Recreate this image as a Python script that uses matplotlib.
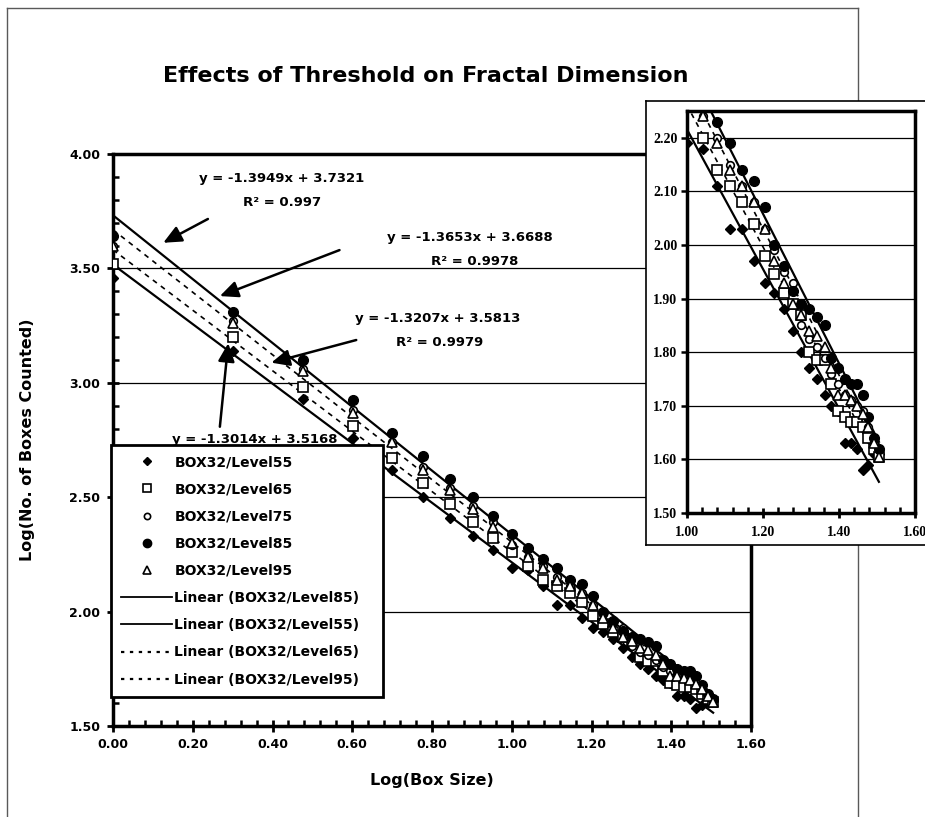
import matplotlib
matplotlib.use("Agg")
import numpy as np
import matplotlib.pyplot as plt
from matplotlib.ticker import MultipleLocator, FormatStrFormatter
from matplotlib.lines import Line2D

# log(box size) for box sizes 1..32
log_box = [0.000, 0.301, 0.477, 0.602, 0.699, 0.778, 0.845, 0.903, 0.954, 1.000,
           1.041, 1.079, 1.114, 1.146, 1.176, 1.204, 1.230, 1.255, 1.279, 1.301,
           1.322, 1.342, 1.362, 1.380, 1.398, 1.415, 1.431, 1.447, 1.462, 1.477,
           1.491, 1.505]

level55 = [3.46, 3.14, 2.93, 2.76, 2.62, 2.50, 2.41, 2.33, 2.27, 2.19,
           2.18, 2.11, 2.03, 2.03, 1.97, 1.93, 1.91, 1.88, 1.84, 1.80,
           1.77, 1.75, 1.72, 1.70, 1.69, 1.63, 1.63, 1.62, 1.58, 1.59,
           1.61, 1.61]
level65 = [3.52, 3.20, 2.98, 2.81, 2.67, 2.56, 2.47, 2.39, 2.32, 2.26,
           2.20, 2.14, 2.11, 2.08, 2.04, 1.98, 1.945, 1.91, 1.89, 1.87,
           1.80, 1.785, 1.785, 1.74, 1.69, 1.68, 1.67, 1.67, 1.66, 1.64,
           1.62, 1.605]
level75 = [3.60, 3.27, 3.06, 2.88, 2.74, 2.63, 2.54, 2.46, 2.39, 2.29,
           2.24, 2.20, 2.15, 2.11, 2.08, 2.03, 1.99, 1.95, 1.93, 1.85,
           1.825, 1.81, 1.79, 1.76, 1.74, 1.72, 1.71, 1.70, 1.69, 1.66,
           1.63, 1.62]
level85 = [3.64, 3.31, 3.10, 2.925, 2.78, 2.68, 2.58, 2.50, 2.42, 2.34,
           2.28, 2.23, 2.19, 2.14, 2.12, 2.07, 2.00, 1.96, 1.915, 1.89,
           1.88, 1.865, 1.85, 1.79, 1.77, 1.75, 1.74, 1.74, 1.72, 1.68,
           1.64, 1.62]
level95 = [3.60, 3.26, 3.05, 2.87, 2.74, 2.62, 2.53, 2.45, 2.37, 2.30,
           2.24, 2.19, 2.14, 2.11, 2.08, 2.03, 1.97, 1.93, 1.89, 1.87,
           1.84, 1.83, 1.81, 1.77, 1.72, 1.72, 1.71, 1.70, 1.685, 1.66,
           1.63, 1.605]

series_names = ["BOX32/Level55", "BOX32/Level65", "BOX32/Level75",
                "BOX32/Level85", "BOX32/Level95"]

# trendlines (order as in legend)
fit_names = ["Level85", "Level55", "Level65", "Level95"]
fit_slope = [-1.3949, -1.3014, -1.3207, -1.3653]
fit_icpt = [3.7321, 3.5168, 3.5813, 3.6688]
fit_r2 = ["0.997", "", "0.9979", "0.9978"]

W, H = 925, 817
fig = plt.figure(figsize=(W / 100, H / 100), dpi=100)
plt.rcParams["font.weight"] = "bold"


def fx(px):
    return px / W


def fy(py):
    return 1 - py / H


def draw_data(ax):
    xs = np.array([log_box[0], log_box[-1]])
    for s, b, name in zip(fit_slope, fit_icpt, fit_names):
        ls = "-" if name in ("Level85", "Level55") else (0, (3, 3))
        lw = 1.6 if ls == "-" else 1.2
        ax.plot(xs, s * xs + b, color="k", lw=lw, linestyle=ls, zorder=3)
    ax.plot(log_box, level55, ls="none", marker="D", ms=5, mfc="k", mec="k", zorder=4)
    ax.plot(log_box, level65, ls="none", marker="s", ms=6.5, mfc="white", mec="k", mew=1.2, zorder=4)
    ax.plot(log_box, level75, ls="none", marker="o", ms=5.5, mfc="white", mec="k", mew=1.2, zorder=4)
    ax.plot(log_box, level85, ls="none", marker="o", ms=7, mfc="k", mec="k", zorder=4)
    ax.plot(log_box, level95, ls="none", marker="^", ms=6.5, mfc="white", mec="k", mew=1.2, zorder=4)


# outer frame of the chart area
frame_kw = dict(transform=fig.transFigure, color="0.35", lw=1, zorder=-1)
fig.add_artist(Line2D([fx(7), fx(7)], [0, fy(8)], **frame_kw))
fig.add_artist(Line2D([fx(7), fx(858)], [fy(8), fy(8)], **frame_kw))
fig.add_artist(Line2D([fx(858), fx(858)], [fy(8), 0], **frame_kw))

# main axes
ax = fig.add_axes([fx(113), fy(726), (751 - 113) / W, (726 - 154) / H])
draw_data(ax)
ax.set_xlim(0, 1.6)
ax.set_ylim(1.5, 4.0)
ax.xaxis.set_major_locator(MultipleLocator(0.2))
ax.xaxis.set_minor_locator(MultipleLocator(0.04))
ax.yaxis.set_major_locator(MultipleLocator(0.5))
ax.yaxis.set_minor_locator(MultipleLocator(0.1))
ax.xaxis.set_major_formatter(FormatStrFormatter("%.2f"))
ax.yaxis.set_major_formatter(FormatStrFormatter("%.2f"))
ax.tick_params(which="major", direction="inout", length=8, width=2, labelsize=9, pad=5)
ax.tick_params(which="minor", direction="in", length=4, width=1.8)
ax.yaxis.grid(True, which="major", color="k", lw=0.9)
ax.set_axisbelow(True)
for sp in ax.spines.values():
    sp.set_linewidth(2.5)

# equations with arrows
eq_text = [(0.423, 3.895, 0.423, 3.786, 0.238, 3.716, 0.126, 3.612),
           (0.894, 3.637, 0.906, 3.528, 0.568, 3.580, 0.268, 3.379),
           (0.814, 3.283, 0.819, 3.174, 0.610, 3.187, 0.397, 3.088),
           (0.356, 2.750, None, None, 0.268, 2.808, 0.289, 3.173)]
eq_order = [0, 3, 2, 1]  # Level85, Level95, Level65, Level55
for k, (tx, ty, rx, ry, ax0, ay0, ax1, ay1) in zip(eq_order, eq_text):
    s, b = fit_slope[k], fit_icpt[k]
    ax.text(tx, ty, "y = %.4fx + %.4f" % (s, b), ha="center", va="center",
            fontsize=9.5, zorder=3)
    if rx is not None:
        ax.text(rx, ry, "R\u00b2 = " + fit_r2[k], ha="center", va="center",
                fontsize=9.5, zorder=3)
    ax.annotate("", xy=(ax1, ay1), xytext=(ax0, ay0),
                arrowprops=dict(arrowstyle="-|>,head_length=0.55,head_width=0.25",
                                lw=1.8, color="k", mutation_scale=20,
                                shrinkA=0, shrinkB=0), zorder=3)

# legend
handles = [
    Line2D([], [], ls="none", marker="D", ms=4.5, mfc="k", mec="k"),
    Line2D([], [], ls="none", marker="s", ms=5.5, mfc="white", mec="k", mew=1.2),
    Line2D([], [], ls="none", marker="o", ms=4.5, mfc="white", mec="k", mew=1.2),
    Line2D([], [], ls="none", marker="o", ms=6, mfc="k", mec="k"),
    Line2D([], [], ls="none", marker="^", ms=5.5, mfc="white", mec="k", mew=1.2),
    Line2D([], [], color="k", lw=1.3),
    Line2D([], [], color="k", lw=1.3),
    Line2D([], [], color="k", lw=1.6, ls=(0, (1.5, 2.5))),
    Line2D([], [], color="k", lw=1.6, ls=(0, (1.5, 2.5))),
]
labels = series_names + ["Linear (BOX32/%s)" % n for n in fit_names]
leg = ax.legend(handles, labels, loc="upper left",
                bbox_to_anchor=(fx(111), fy(445), (383 - 111) / W, 0),
                bbox_transform=fig.transFigure, mode="expand",
                prop=dict(weight="bold", size=10), frameon=True, fancybox=False,
                edgecolor="k", framealpha=1, borderpad=0.72, labelspacing=0.95,
                handlelength=3.7, handletextpad=0.15, borderaxespad=0)
leg.get_frame().set_linewidth(2)
leg.set_zorder(10)

fig.text(fx(426), fy(76), "Effects of Threshold on Fractal Dimension",
         ha="center", va="center", fontsize=16, fontweight="bold")
fig.text(fx(28), fy(440), "Log(No. of Boxes Counted)", rotation=90,
         ha="center", va="center", fontsize=11.5, fontweight="bold")
fig.text(fx(432), fy(781), "Log(Box Size)", ha="center", va="center",
         fontsize=11.5, fontweight="bold")

# inset: white panel with frame, then zoomed axes
fax = fig.add_axes([fx(646), fy(545), 0.35, (545 - 101) / H])
fax.set_xticks([])
fax.set_yticks([])
for sp in fax.spines.values():
    sp.set_linewidth(1.2)

iax = fig.add_axes([fx(687), fy(513), (915 - 687) / W, (513 - 111) / H])
draw_data(iax)
iax.set_xlim(1.0, 1.6)
iax.set_ylim(1.5, 2.25)
iax.xaxis.set_major_locator(MultipleLocator(0.2))
iax.xaxis.set_minor_locator(MultipleLocator(0.04))
iax.yaxis.set_major_locator(MultipleLocator(0.1))
iax.xaxis.set_major_formatter(FormatStrFormatter("%.2f"))
iax.yaxis.set_major_formatter(FormatStrFormatter("%.2f"))
iax.tick_params(axis="x", which="major", direction="inout", length=7, width=2, pad=6)
iax.tick_params(axis="x", which="minor", direction="in", length=4, width=1.8)
iax.tick_params(axis="y", which="major", direction="out", length=4, width=1.8, pad=3)
iax.tick_params(which="major", labelsize=10, labelfontfamily="Liberation Serif")
iax.yaxis.grid(True, which="major", color="k", lw=0.9)
iax.set_axisbelow(True)
for sp in iax.spines.values():
    sp.set_linewidth(2.5)

fig.savefig("out.png", dpi=100)
